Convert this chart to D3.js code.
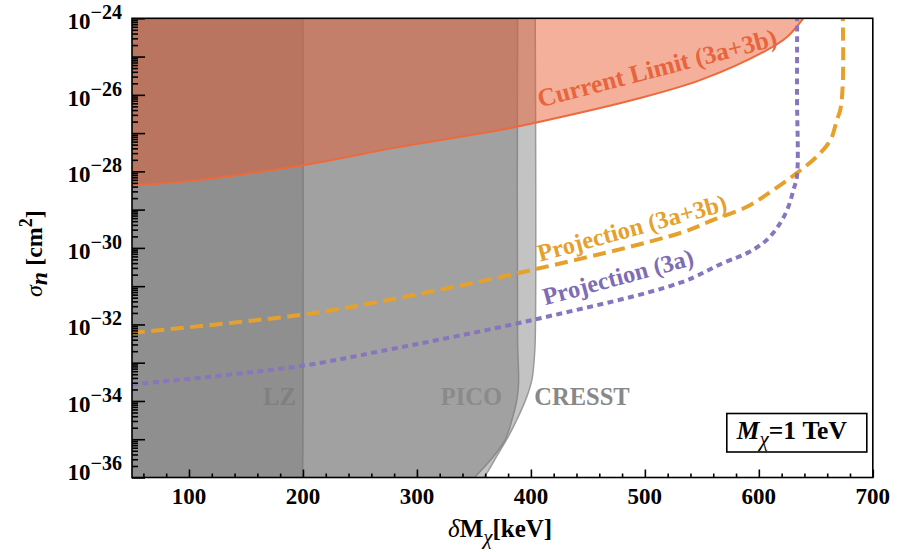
<!DOCTYPE html>
<html>
<head>
<meta charset="utf-8">
<script src="https://cdn.jsdelivr.net/npm/d3@7"></script>
<style>
  body { margin: 0; background: #fff; }
  text { font-family: "Liberation Serif", "Times New Roman", serif; }
</style>
</head>
<body>
<div id="chart"></div>
<script>
// axis ticks
const xTicks = [100, 200, 300, 400, 500, 600, 700];
const xMinorTicks = d3.range(60, 700, 20).filter(v => v % 100 !== 0);
const yExponents = [-36, -34, -32, -30, -28, -26, -24];

// current limit (3a+3b): delta M [keV] vs log10 sigma
const limitMass = [50, 110, 200, 285, 373, 404, 490, 549, 607, 625, 639];
const limitLog = [-28.37, -28.22, -27.84, -27.36, -26.92, -26.73, -26.13, -25.61, -24.83, -24.48, -24.0];

// projection (3a+3b)
const projABMass = [50, 198, 268, 402, 531, 560, 590, 613, 633, 651, 663, 668.5, 671.5, 673.7, 673.7];
const projABLog = [-32.22, -31.75, -31.40, -30.57, -29.61, -29.27, -28.92, -28.48, -28.05, -27.61, -27.17, -26.66, -26.39, -25.69, -24.0];

// projection (3a)
const projAMass = [50, 195, 268, 402, 531, 569, 590, 607, 619, 626, 630.4, 633.4, 633.5, 633.6];
const projALog = [-33.57, -33.10, -32.70, -31.88, -30.91, -30.39, -30.13, -29.79, -29.34, -28.92, -28.48, -28.14, -26.0, -24.0];

// experimental exclusions, boundary from top to bottom
const lzMass = [200, 200, 199.5];
const lzLog = [-24, -35, -36];
const picoMass = [388.3, 388.3, 389.2, 387.7, 383.4, 377.5, 367.2, 350.5];
const picoLog = [-24, -32.4, -33.53, -33.97, -34.49, -35.01, -35.45, -36];
const cresstMass = [403.8, 403.8, 402.9, 400.9, 396.5, 389.1, 380.4, 371.6, 361.4, 358.4];
const cresstLog = [-24, -32.4, -32.92, -33.44, -33.88, -34.40, -34.92, -35.36, -35.88, -36];

const W = 903, H = 552;
const pLeft = 132, pRight = 872.8, pTop = 18.3, pBottom = 477.5;

const x = d3.scaleLinear().domain([50, 700]).range([pLeft, pRight]);
const y = d3.scaleLog().domain([1e-36, 1e-24]).range([pBottom, pTop]);

const pts = (ms, ls) => ms.map((m, i) => [m, Math.pow(10, ls[i])]);

const svg = d3.select("#chart").append("svg")
  .attr("width", W).attr("height", H);

svg.append("defs").append("clipPath").attr("id", "plot-clip")
  .append("rect")
  .attr("x", pLeft).attr("y", pTop)
  .attr("width", pRight - pLeft).attr("height", pBottom - pTop);

const plot = svg.append("g").attr("clip-path", "url(#plot-clip)");

const curve = d3.curveCatmullRom.alpha(0.5);

// gray exclusion regions (widest first)
const region = d3.area()
  .curve(curve)
  .x0(x(50) - 2)
  .x1(d => x(d[0]))
  .y(d => y(d[1]));
const boundary = d3.line().curve(curve).x(d => x(d[0])).y(d => y(d[1]));

const exps = [
  { data: pts(cresstMass, cresstLog), fill: "#c3c3c3", stroke: "#9a9a9a" },
  { data: pts(picoMass, picoLog), fill: "#a1a1a1", stroke: "#8a8a8a" },
  { data: pts(lzMass, lzLog), fill: "#8f8f8f", stroke: "#808080" }
];
exps.forEach(e => {
  plot.append("path").attr("d", region(e.data)).attr("fill", e.fill);
});
exps.forEach(e => {
  plot.append("path").attr("d", boundary(e.data))
    .attr("fill", "none").attr("stroke", e.stroke).attr("stroke-width", 1.5);
});

// current limit
const limit = pts(limitMass, limitLog);
plot.append("path")
  .attr("d", d3.area().curve(curve)
    .x(d => x(d[0])).y0(d => y(d[1])).y1(pTop - 2)(limit))
  .attr("fill", "rgb(232,90,45)").attr("fill-opacity", 0.48);
plot.append("path")
  .attr("d", boundary(limit))
  .attr("fill", "none").attr("stroke", "#ec6a3e").attr("stroke-width", 2);

// projections
plot.append("path")
  .attr("d", boundary(pts(projABMass, projABLog)))
  .attr("fill", "none").attr("stroke", "#e6a02c")
  .attr("stroke-width", 4).attr("stroke-dasharray", "13,6.5");
plot.append("path")
  .attr("d", boundary(pts(projAMass, projALog)))
  .attr("fill", "none").attr("stroke", "#8775bd")
  .attr("stroke-width", 4).attr("stroke-dasharray", "6,4.5");

// curve labels
const curveLabel = (txt, m, l, angle, size, color) => {
  svg.append("text")
    .attr("transform", `translate(${x(m)},${y(Math.pow(10, l))}) rotate(${angle})`)
    .attr("fill", color)
    .style("font-size", size + "px").style("font-weight", "bold")
    .text(txt);
};
curveLabel("Current Limit (3a+3b)", 408, -26.33, -14.6, 25.5, "#e8643c");
curveLabel("Projection (3a+3b)", 408, -30.36, -15.3, 24.5, "#e6a02c");
curveLabel("Projection (3a)", 412.5, -31.5, -15.2, 24.5, "#7e6cb4");

// experiment labels
const expLabel = (txt, m, color) => {
  svg.append("text")
    .attr("x", x(m)).attr("y", y(Math.pow(10, -34.1)))
    .attr("fill", color)
    .style("font-size", "24.5px").style("font-weight", "bold")
    .text(txt);
};
expLabel("LZ", 165, "#808080");
expLabel("PICO", 321, "#8a8a8a");
expLabel("CRESST", 403, "#888888");

// axes: ticks inward
const axes = svg.append("g");
axes.append("g")
  .attr("transform", `translate(0,${pBottom})`)
  .call(d3.axisBottom(x).tickValues(xMinorTicks).tickSize(-4).tickFormat(""))
  .call(g => g.select(".domain").remove());
axes.append("g")
  .attr("transform", `translate(0,${pBottom})`)
  .call(d3.axisBottom(x).tickValues(xTicks).tickSize(-8).tickFormat(""))
  .call(g => g.select(".domain").remove());

const yMajor = d3.range(-36, -23).map(e => Math.pow(10, e));
const yMinor = [];
d3.range(-36, -24).forEach(e => {
  for (let k = 2; k <= 9; k++) yMinor.push(k * Math.pow(10, e));
});
axes.append("g")
  .attr("transform", `translate(${pLeft},0)`)
  .call(d3.axisLeft(y).tickValues(yMinor).tickSize(-6).tickFormat(""))
  .call(g => g.select(".domain").remove());
axes.append("g")
  .attr("transform", `translate(${pLeft},0)`)
  .call(d3.axisLeft(y).tickValues(yMajor).tickSize(-13).tickFormat(""))
  .call(g => g.select(".domain").remove());
axes.selectAll(".tick line").attr("stroke", "#000").attr("stroke-width", 1.6);

// frame
svg.append("rect")
  .attr("x", pLeft).attr("y", pTop)
  .attr("width", pRight - pLeft).attr("height", pBottom - pTop)
  .attr("fill", "none").attr("stroke", "#000").attr("stroke-width", 1.6);

// tick labels
xTicks.forEach(v => {
  svg.append("text")
    .attr("x", x(v)).attr("y", pBottom + 26)
    .attr("text-anchor", "middle")
    .style("font-size", "23px").style("font-weight", "bold")
    .text(v);
});
yExponents.forEach(e => {
  const t = svg.append("text")
    .attr("x", 122)
    .attr("y", y(Math.pow(10, e)) + (e === -36 ? 2 : 11))
    .attr("text-anchor", "end")
    .style("font-size", "23px").style("font-weight", "bold");
  t.append("tspan").text("10");
  t.append("tspan").attr("dy", -10).style("font-size", "20px").text("\u2212" + Math.abs(e));
});

// axis titles
const xt = svg.append("text")
  .attr("x", 448).attr("y", 537)
  .style("font-size", "25px");
xt.append("tspan").style("font-style", "italic").text("\u03b4");
xt.append("tspan").style("font-weight", "bold").text("M");
xt.append("tspan").attr("dy", 7).style("font-style", "italic").style("font-size", "21px").text("\u03c7");
xt.append("tspan").attr("dy", -7).style("font-weight", "bold").text("[keV]");

const yt = svg.append("text")
  .attr("transform", "translate(42,297) rotate(-90)")
  .style("font-size", "24px");
yt.append("tspan").style("font-style", "italic").text("\u03c3");
yt.append("tspan").attr("dy", 5).style("font-style", "italic").style("font-weight", "bold").text("n");
yt.append("tspan").attr("dy", -5).style("font-weight", "bold").text(" [cm");
yt.append("tspan").attr("dy", -10).style("font-weight", "bold").style("font-size", "18px").text("2");
yt.append("tspan").attr("dy", 10).style("font-weight", "bold").text("]");

// mass box
svg.append("rect")
  .attr("x", pRight - 146).attr("y", pBottom - 64)
  .attr("width", 140).attr("height", 38.5)
  .attr("fill", "#fff").attr("stroke", "#000").attr("stroke-width", 1.6);
const bt = svg.append("text")
  .attr("x", pRight - 136).attr("y", pBottom - 39)
  .style("font-size", "25.5px");
bt.append("tspan").style("font-style", "italic").style("font-weight", "bold").text("M");
bt.append("tspan").attr("dy", 7).style("font-style", "italic").style("font-size", "21px").text("\u03c7");
bt.append("tspan").attr("dy", -7).style("font-weight", "bold").text("=1 TeV");
</script>
</body>
</html>
